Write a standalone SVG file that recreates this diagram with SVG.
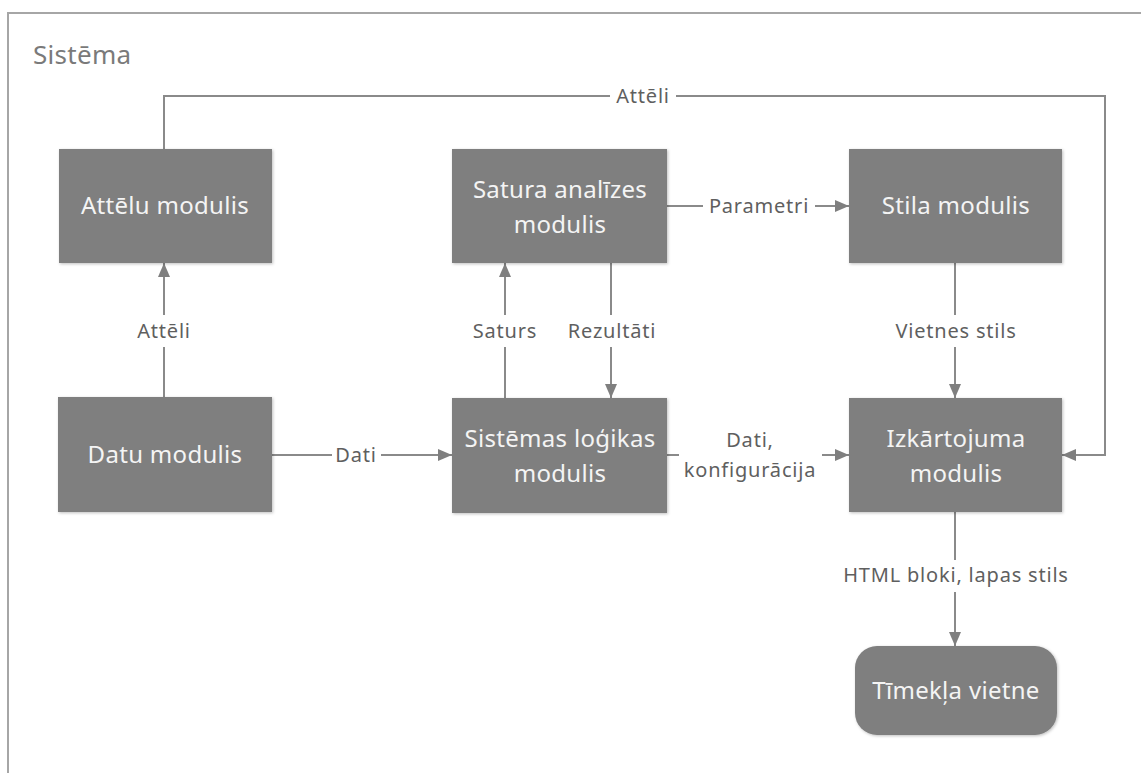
<svg xmlns="http://www.w3.org/2000/svg" width="1141" height="773" viewBox="0 0 1141 773">
<defs>
<style>
.node{fill:#7f7f7f;filter:url(#sh)}
.nt{font-family:"Noto Sans","Open Sans",sans-serif;font-size:24px;fill:#f4f4f4;text-anchor:middle;letter-spacing:0.3px}
.lbl{font-family:"Noto Sans","Open Sans",sans-serif;font-size:20px;fill:#5f5f5f;text-anchor:middle;letter-spacing:0.8px}
.arr{fill:none;stroke:#8a8a8a;stroke-width:2;marker-end:url(#ah)}
.bg{fill:#fff}
</style>
<filter id="sh" x="-10%" y="-10%" width="120%" height="120%">
<feDropShadow dx="1" dy="1" stdDeviation="1.5" flood-color="#000" flood-opacity="0.25"/>
</filter>
<marker id="ah" viewBox="0 0 14 12" refX="14" refY="6" markerWidth="14" markerHeight="12" markerUnits="userSpaceOnUse" orient="auto">
<path d="M0,0 L14,6 L0,12 z" fill="#7f7f7f"/>
</marker>
</defs>
<rect width="1141" height="773" fill="#fff"/>
<rect x="8" y="13" width="1200" height="800" fill="none" stroke="#a6a6a6" stroke-width="2"/>
<text x="33" y="64" font-family="Noto Sans,Open Sans,sans-serif" font-size="26" fill="#7a7a7a" letter-spacing="0.3">Sistēma</text>

<g id="connectors">
<path class="arr" d="M164,149 V96 H1105 V455 H1062"/>
<rect class="bg" x="610" y="84" width="66" height="24"/>
<text class="lbl" x="643" y="103">Attēli</text>

<path class="arr" d="M164,397 V263"/>
<rect class="bg" x="126" y="315" width="76" height="32"/>
<text class="lbl" x="164" y="338">Attēli</text>

<path class="arr" d="M272,455 H452"/>
<rect class="bg" x="332" y="443" width="49" height="24"/>
<text class="lbl" x="356" y="462">Dati</text>

<path class="arr" d="M667,206 H849"/>
<rect class="bg" x="703" y="194" width="112" height="24"/>
<text class="lbl" x="759" y="213">Parametri</text>

<path class="arr" d="M505,398 V263"/>
<path class="arr" d="M611,263 V398"/>
<rect class="bg" x="465" y="315" width="80" height="32"/>
<text class="lbl" x="505" y="338">Saturs</text>
<rect class="bg" x="558" y="315" width="106" height="32"/>
<text class="lbl" x="612" y="338">Rezultāti</text>

<path class="arr" d="M955,263 V398"/>
<rect class="bg" x="884" y="315" width="144" height="32"/>
<text class="lbl" x="956" y="338">Vietnes stils</text>

<path class="arr" d="M667,455 H849"/>
<rect class="bg" x="679" y="424" width="143" height="60"/>
<text class="lbl" x="750" y="447">Dati,</text>
<text class="lbl" x="750" y="477">konfigurācija</text>

<path class="arr" d="M955,512 V646"/>
<rect class="bg" x="830" y="560" width="252" height="32"/>
<text class="lbl" x="956" y="582">HTML bloki, lapas stils</text>
</g>

<g id="attelu"><rect class="node" x="59" y="149" width="213" height="114"/><text class="nt" x="165" y="214">Attēlu modulis</text></g>
<g id="satura"><rect class="node" x="452" y="149" width="215" height="114"/><text class="nt" x="560" y="198">Satura analīzes</text><text class="nt" x="560" y="233">modulis</text></g>
<g id="stila"><rect class="node" x="849" y="149" width="213" height="114"/><text class="nt" x="956" y="214">Stila modulis</text></g>
<g id="datu"><rect class="node" x="58" y="397" width="214" height="115"/><text class="nt" x="165" y="463">Datu modulis</text></g>
<g id="sistemas"><rect class="node" x="452" y="398" width="215" height="115"/><text class="nt" x="560" y="447">Sistēmas loģikas</text><text class="nt" x="560" y="482">modulis</text></g>
<g id="izkartojuma"><rect class="node" x="849" y="398" width="213" height="114"/><text class="nt" x="956" y="447">Izkārtojuma</text><text class="nt" x="956" y="482">modulis</text></g>
<g id="timekla"><rect class="node" x="855" y="646" width="202" height="89" rx="22" ry="22"/><text class="nt" x="956" y="699">Tīmekļa vietne</text></g>
</svg>
